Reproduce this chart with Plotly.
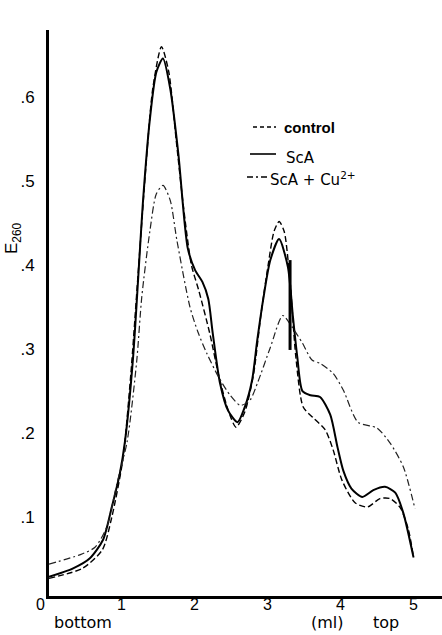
import plotly.graph_objects as go

# ---- data (volume in ml from bottom, E260) ----
control_x = [0.0, 0.46, 0.73, 0.86, 1.01, 1.12, 1.22, 1.32, 1.42, 1.54, 1.64, 1.74, 1.84, 1.95, 2.05, 2.2, 2.32, 2.45, 2.56, 2.68, 2.8, 2.9, 3.0, 3.08, 3.15, 3.22, 3.3, 3.38, 3.48, 3.62, 3.78, 3.89, 4.01, 4.19, 4.36, 4.53, 4.67, 4.81, 4.92, 4.99]
control_y = [0.027, 0.039, 0.061, 0.1, 0.168, 0.27, 0.39, 0.51, 0.61, 0.66, 0.63, 0.55, 0.47, 0.40, 0.37, 0.319, 0.27, 0.228, 0.207, 0.225, 0.27, 0.34, 0.40, 0.44, 0.452, 0.44, 0.38, 0.29, 0.231, 0.218, 0.204, 0.18, 0.144, 0.117, 0.112, 0.122, 0.122, 0.111, 0.085, 0.052]

sca_x = [0.0, 0.33, 0.56, 0.74, 0.86, 0.97, 1.04, 1.15, 1.29, 1.38, 1.47, 1.56, 1.66, 1.77, 1.9, 2.0, 2.1, 2.18, 2.24, 2.34, 2.45, 2.58, 2.68, 2.78, 2.85, 2.93, 3.03, 3.15, 3.27, 3.34, 3.4, 3.47, 3.58, 3.71, 3.85, 3.95, 4.03, 4.14, 4.29, 4.44, 4.6, 4.74, 4.85, 4.99]
sca_y = [0.029, 0.039, 0.051, 0.073, 0.112, 0.152, 0.19, 0.289, 0.48, 0.573, 0.63, 0.646, 0.61, 0.533, 0.42, 0.394, 0.38, 0.36, 0.32, 0.26, 0.227, 0.213, 0.231, 0.263, 0.31, 0.358, 0.406, 0.431, 0.398, 0.338, 0.29, 0.25, 0.245, 0.243, 0.222, 0.183, 0.155, 0.134, 0.124, 0.132, 0.136, 0.129, 0.105, 0.052]

cu_x = [0.0, 0.42, 0.63, 0.79, 0.93, 1.07, 1.2, 1.27, 1.38, 1.47, 1.56, 1.66, 1.75, 1.93, 2.04, 2.16, 2.32, 2.48, 2.62, 2.75, 2.86, 3.03, 3.2, 3.33, 3.47, 3.6, 3.71, 3.89, 4.03, 4.23, 4.49, 4.67, 4.85, 5.01]
cu_y = [0.044, 0.055, 0.064, 0.088, 0.14, 0.19, 0.285, 0.362, 0.44, 0.485, 0.495, 0.477, 0.43, 0.35, 0.32, 0.295, 0.267, 0.245, 0.233, 0.239, 0.261, 0.302, 0.34, 0.326, 0.307, 0.287, 0.283, 0.271, 0.251, 0.213, 0.206, 0.188, 0.16, 0.11]

marker_x = [3.3, 3.3]
marker_y = [0.299, 0.406]

x_ticks = [0, 1, 2, 3, 4, 5]
x_ticktext = ["0", "1", "2", "3", "4", "5"]
y_ticks = [0.1, 0.2, 0.3, 0.4, 0.5, 0.6]
y_ticktext = [".1", ".2", ".3", ".4", ".5", ".6"]

# ---- layout geometry ----
W, H = 442, 635
ML, MR, MT, MB = 49, 0, 30, 39
PW, PH = W - ML - MR, H - MT - MB


def px(xp):
    return (xp - ML) / PW


def py(yp):
    return (H - MB - yp) / PH


FONT = "Liberation Sans, Arial, sans-serif"
WIDE = "DejaVu Sans, Verdana, sans-serif"
TXT = dict(family=FONT, color="black")
TXTW = dict(family=WIDE, color="black")

fig = go.Figure()
fig.add_trace(go.Scatter(x=control_x, y=control_y, mode="lines",
                         line=dict(color="black", width=1.4, dash="6px,3px", shape="spline", smoothing=0.7),
                         name="control", showlegend=False))
fig.add_trace(go.Scatter(x=sca_x, y=sca_y, mode="lines",
                         line=dict(color="black", width=2, shape="spline", smoothing=0.7),
                         name="ScA", showlegend=False))
fig.add_trace(go.Scatter(x=cu_x, y=cu_y, mode="lines",
                         line=dict(color="#222", width=1.2, dash="7px,3px,2px,3px", shape="spline", smoothing=0.7),
                         name="ScA + Cu2+", showlegend=False))
fig.add_trace(go.Scatter(x=marker_x, y=marker_y, mode="lines",
                         line=dict(color="black", width=3), showlegend=False))

# legend samples
shapes = [
    dict(type="line", xref="paper", yref="paper", x0=px(253), x1=px(276), y0=py(127), y1=py(127),
         line=dict(color="black", width=1.6, dash="4px,3px")),
    dict(type="line", xref="paper", yref="paper", x0=px(250), x1=px(276), y0=py(154), y1=py(154),
         line=dict(color="black", width=1.6)),
    dict(type="line", xref="paper", yref="paper", x0=px(247), x1=px(268), y0=py(177), y1=py(177),
         line=dict(color="black", width=1.3, dash="6px,3px,2px,3px")),
]

annotations = [
    dict(text="<b>control</b>", x=px(282), y=py(127), xref="paper", yref="paper",
         xanchor="left", yanchor="middle", showarrow=False, font=dict(size=15, **TXT)),
    dict(text="ScA", x=px(284), y=py(158), xref="paper", yref="paper",
         xanchor="left", yanchor="middle", showarrow=False, font=dict(size=15, **TXTW)),
    dict(text="ScA + Cu<sup>2+</sup>", x=px(268), y=py(179), xref="paper", yref="paper",
         xanchor="left", yanchor="middle", showarrow=False, font=dict(size=15, **TXTW)),
    dict(text="E<sub>260</sub>", x=px(13), y=py(238), xref="paper", yref="paper", textangle=-90,
         xanchor="center", yanchor="middle", showarrow=False, font=dict(size=17, **TXT)),
    dict(text="bottom", x=px(83), y=py(622), xref="paper", yref="paper",
         xanchor="center", yanchor="middle", showarrow=False, font=dict(size=16, **TXTW)),
    dict(text="(ml)", x=px(327), y=py(623), xref="paper", yref="paper",
         xanchor="center", yanchor="middle", showarrow=False, font=dict(size=16, **TXTW)),
    dict(text="top", x=px(386), y=py(623), xref="paper", yref="paper",
         xanchor="center", yanchor="middle", showarrow=False, font=dict(size=16, **TXTW)),
]

# x tick labels as annotations (placed close under the axis like the original)
for v, t in zip(x_ticks, x_ticktext):
    annotations.append(dict(text=t, x=v, y=py(604), xref="x", yref="paper",
                            xshift=(-9 if v == 0 else -1),
                            xanchor="center", yanchor="middle", showarrow=False,
                            font=dict(size=16, **TXT)))

fig.update_layout(
    width=W, height=H, autosize=False,
    margin=dict(l=ML, r=MR, t=MT, b=MB, pad=0),
    paper_bgcolor="white", plot_bgcolor="white",
    shapes=shapes, annotations=annotations,
    font=dict(family=FONT, color="black"),
    xaxis=dict(range=[0, 5.38], showline=True, linewidth=3, linecolor="black", showgrid=False,
               zeroline=False, tickvals=x_ticks, ticktext=x_ticktext, ticks="",
               showticklabels=False),
    yaxis=dict(range=[0.006, 0.68], showline=True, linewidth=3, linecolor="black", showgrid=False,
               zeroline=False, tickvals=y_ticks, ticktext=y_ticktext, ticks="",
               tickfont=dict(size=17, **TXT), ticklabelstandoff=8),
)

fig.write_html("out.html")
